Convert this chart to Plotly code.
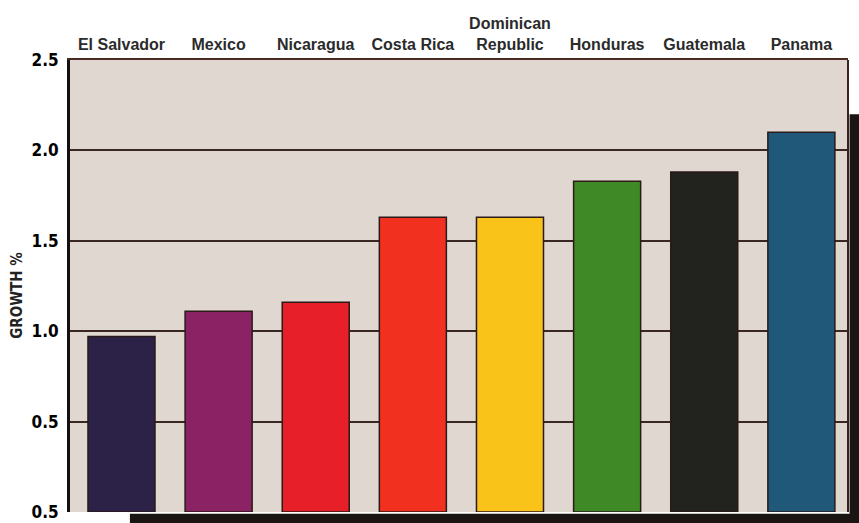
import plotly.graph_objects as go

countries = ["El Salvador", "Mexico", "Nicaragua", "Costa Rica", "Dominican<br>Republic",
             "Honduras", "Guatemala", "Panama"]
growth = [0.97, 1.11, 1.16, 1.63, 1.63, 1.83, 1.88, 2.10]
bar_colors = ["#2c2147", "#8b2263", "#e61f28", "#f2301f", "#f9c31a", "#3f8a27", "#22231f", "#1f5878"]
y_tickvals = [0, 0.5, 1.0, 1.5, 2.0, 2.5]
y_ticktext = ["0.5", "0.5", "1.0", "1.5", "2.0", "2.5"]

fig = go.Figure()
fig.add_trace(go.Bar(
    x=list(range(len(countries))), y=growth,
    marker=dict(color=bar_colors, line=dict(color="#2a1a1a", width=1.5)),
    width=0.69, hoverinfo="skip",
))

fig.update_layout(
    width=859, height=523,
    margin=dict(l=70, r=11, t=60, b=11, autoexpand=False),
    paper_bgcolor="white", plot_bgcolor="#e0d7d1",
    showlegend=False,
    font=dict(family="Liberation Sans Narrow, Arial Narrow, sans-serif", color="#2a2a2a"),
    xaxis=dict(
        side="top", range=[-0.53, 7.48], automargin=False,
        tickmode="array", tickvals=list(range(len(countries))), ticktext=[f"<b>{c}</b>" for c in countries],
        tickfont=dict(size=16, color="#2b2b2b"),
        showgrid=False, zeroline=False, showline=True, linecolor="#4a2a22", linewidth=2,
        ticks="", ticklabelstandoff=2,
    ),
    yaxis=dict(
        range=[0, 2.5], automargin=False,
        tickmode="array", tickvals=y_tickvals, ticktext=[f"<b>{t}</b>" for t in y_ticktext],
        tickfont=dict(size=17, color="black", family="DejaVu Sans Condensed, DejaVu Sans"),
        showgrid=True, gridcolor="#3a2622", gridwidth=2,
        zeroline=False, showline=True, linecolor="#111", linewidth=3,
        ticks="", ticklabelstandoff=5,
    ),
)

fig.add_annotation(text="<b>GROWTH %</b>", xref="paper", yref="paper", x=-0.0685, y=0.48,
                   textangle=-90, showarrow=False, xanchor="center", yanchor="middle",
                   font=dict(size=15, color="#222", family="DejaVu Sans Condensed, DejaVu Sans"))

# right border of plot
fig.add_shape(type="line", xref="paper", yref="paper", x0=1, x1=1, y0=0, y1=1,
              line=dict(color="#3a2222", width=2))
# dark strips (page edge shadows)
fig.add_shape(type="rect", xref="paper", yref="paper", x0=1.002, x1=1.02, y0=-0.03, y1=0.88,
              line=dict(width=0), fillcolor="#1a1512")
fig.add_shape(type="rect", xref="paper", yref="paper", x0=0.077, x1=1.02, y0=-0.03, y1=-0.004,
              line=dict(width=0), fillcolor="#1a1512")

fig.write_html("out.html")
